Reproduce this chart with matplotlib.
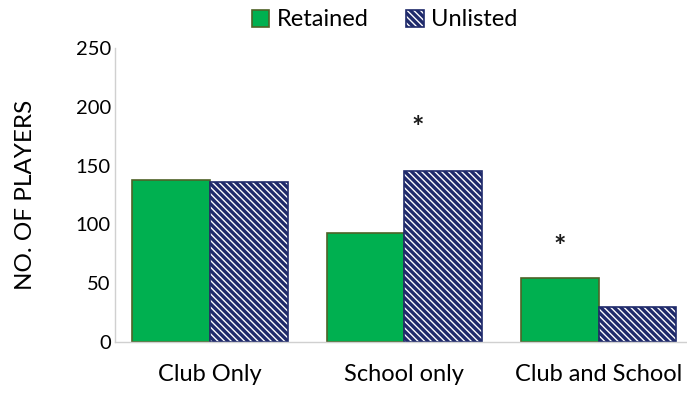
import matplotlib
matplotlib.use("Agg")
import matplotlib.pyplot as plt
import numpy as np

categories = ["Club Only", "School only", "Club and School"]
retained = [138, 93, 54]
unlisted = [136, 145, 30]
y_ticks = [0, 50, 100, 150, 200, 250]
# significance markers: (category index, x offset in category units, y value)
star_cat = [1, 2]
star_dx = [0.07, -0.2]
star_y = [182, 81]

plt.rcParams['font.family'] = ['Lato', 'DejaVu Sans']
plt.rcParams['hatch.color'] = '#1F2A6B'
plt.rcParams['hatch.linewidth'] = 2.4

fig = plt.figure(figsize=(6.87, 3.94), dpi=100)
ax = fig.add_axes([115/687, 52/394, (687-115)/687, (342-48)/394])

x = np.arange(len(categories))
w = 0.4
ax.bar(x - w/2, retained, width=w, color='#00B050', edgecolor='#4F6228', linewidth=1.2, label='Retained')
ax.bar(x + w/2, unlisted, width=w, color='white', edgecolor='#1F2A6B', hatch='\\\\\\\\\\', linewidth=1.2, label='Unlisted')

for c, dx, yv in zip(star_cat, star_dx, star_y):
    ax.text(x[c] + dx, yv, '*', ha='center', va='center', fontsize=21, fontweight='bold', color='#1a1a1a')

ax.set_ylim(0, 250)
ax.set_yticks(y_ticks)
ax.set_xlim(-0.49, 2.455)
ax.set_xticks(x)
ax.set_xticklabels(categories)
ax.tick_params(axis='both', length=0, colors='black')
ax.tick_params(axis='x', pad=16, labelsize=17)
ax.tick_params(axis='y', pad=3, labelsize=14.5)
for s in ['top', 'right']:
    ax.spines[s].set_visible(False)
ax.spines['left'].set_color('#D0D0D0')
ax.spines['bottom'].set_color('#D0D0D0')
ax.spines['left'].set_linewidth(1)
ax.spines['bottom'].set_linewidth(1)
ax.set_ylabel('NO. OF PLAYERS', fontsize=17.5)
ax.yaxis.set_label_coords(-(115 - 36) / 572, 0.5)

ax.legend(loc='center', bbox_to_anchor=(((252 + 517) / 2 - 115) / 572, 1 + (48 - 20) / 294), ncol=2, frameon=False,
          fontsize=17, handlelength=0.75, handleheight=0.75, handletextpad=0.3, columnspacing=1.6,
          borderaxespad=0)

fig.savefig('out.png', dpi=100)
